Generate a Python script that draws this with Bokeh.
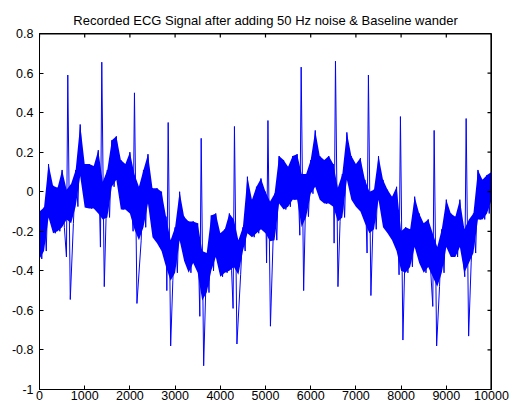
from bokeh.plotting import figure
from bokeh.models import Range1d, FixedTicker
from bokeh.embed import file_html
from bokeh.resources import INLINE

title_text = "Recorded ECG Signal after adding 50 Hz noise & Baseline wander"

# envelope of the noisy band (sample positions every 100 samples)
env_t = list(range(0, 10001, 100))
upper = [-0.10, -0.08, 0.14, 0.03, 0.02, 0.11, 0.01, 0.04, 0.11, 0.34,
         0.14, 0.14, 0.13, 0.21, 0.05, 0.11, 0.26, 0.28, 0.16, 0.14,
         0.20, 0.09, 0.025, 0.11, 0.19, 0.017, 0.017, 0.00, -0.126, -0.245,
         -0.18, 0.00, -0.126, -0.15, -0.15, -0.16, -0.30, -0.31, -0.12, -0.11,
         -0.21, -0.19, -0.11, -0.14, -0.245, -0.18, 0.076, -0.04, 0.025, 0.067,
         0.00, -0.05, -0.01, 0.18, 0.16, 0.126, 0.18, 0.19, 0.09, 0.09,
         0.16, 0.31, 0.18, 0.16, 0.18, 0.14, 0.02, 0.09, 0.30, 0.18,
         0.14, 0.17, 0.06, 0.00, 0.01, 0.18, 0.06, 0.01, -0.025, 0.025,
         -0.20, -0.18, -0.19, -0.025, -0.11, -0.16, -0.14, -0.21, -0.28, -0.19,
         -0.04, -0.11, -0.126, -0.04, -0.19, -0.14, -0.11, 0.11, 0.06, 0.084,
         0.10]
lower = [-0.34, -0.30, -0.13, -0.21, -0.20, -0.18, -0.14, -0.16, -0.075, 0.08,
         -0.08, -0.085, -0.085, -0.11, -0.14, -0.13, 0.025, 0.06, -0.09, -0.09,
         -0.11, -0.19, -0.245, -0.18, -0.06, -0.23, -0.26, -0.30, -0.38, -0.45,
         -0.41, -0.245, -0.35, -0.41, -0.36, -0.41, -0.55, -0.51, -0.40, -0.33,
         -0.43, -0.41, -0.40, -0.38, -0.42, -0.30, -0.21, -0.23, -0.21, -0.19,
         -0.21, -0.25, -0.245, -0.06, -0.09, -0.076, -0.04, -0.04, -0.18, -0.126,
         -0.01, 0.025, -0.04, -0.06, -0.06, -0.076, -0.15, -0.13, 0.06, -0.04,
         -0.076, -0.10, -0.16, -0.21, -0.19, -0.04, -0.18, -0.21, -0.245, -0.30,
         -0.40, -0.41, -0.38, -0.28, -0.36, -0.41, -0.38, -0.43, -0.48, -0.41,
         -0.28, -0.33, -0.33, -0.28, -0.41, -0.36, -0.31, -0.14, -0.14, -0.11,
         -0.04]

# QRS complexes: R-peak sample, Q dip, R peak, S trough
beat_t = [626, 1378, 2101, 2847, 3577, 4313, 5054, 5789, 6548, 7277, 7985, 8731, 9439]
q_val = [-0.33, -0.28, -0.20, -0.50, -0.63, -0.59, -0.36, -0.22, -0.26, -0.31, -0.42, -0.58, -0.43]
r_val = [0.59, 0.655, 0.50, 0.35, 0.27, 0.33, 0.36, 0.63, 0.66, 0.59, 0.38, 0.31, 0.37]
s_val = [-0.545, -0.48, -0.565, -0.78, -0.88, -0.77, -0.68, -0.50, -0.48, -0.525, -0.75, -0.78, -0.73]

x_ticks = [0, 1000, 2000, 3000, 4000, 5000, 6000, 7000, 8000, 9000, 10000]
y_ticks = [-1, -0.8, -0.6, -0.4, -0.2, 0, 0.2, 0.4, 0.6, 0.8]
y_tick_labels = ["-1", "-0.8", "-0.6", "-0.4", "-0.2", "0", "0.2", "0.4", "0.6", "0.8"]

X0, X1 = 0, 10000
Y0, Y1 = -1, 0.8

# build the signal trace: zig-zag across the band, with the QRS complexes inserted
pts = []
for i, t in enumerate(env_t):
    pts.append((t, upper[i]))
    if t + 50 <= X1:
        pts.append((t + 50, lower[i]))
for b, q, r, s in zip(beat_t, q_val, r_val, s_val):
    pts = [pt for pt in pts if not (b - 45 < pt[0] < b + 100)]
    pts += [(b - 30, q), (b, r), (b + 55, s)]
pts.sort(key=lambda a: a[0])
sig_x = [a[0] for a in pts]
sig_y = [a[1] for a in pts]

BLUE = "#0000ff"
FONT = "Liberation Sans"

W, H = 513, 410
BL, BR, BT, BB = 39, 22, 33, 21
FW, FH = W - BL - BR, H - BT - BB
TICK = 4

p = figure(width=W, height=H, x_range=Range1d(X0, X1), y_range=Range1d(Y0, Y1),
           output_backend="svg", toolbar_location=None,
           min_border_left=BL, min_border_right=BR, min_border_top=BT, min_border_bottom=BB)
p.title.text = title_text
p.title.align = "center"
p.title.text_font = FONT
p.title.text_font_size = "13px"
p.title.text_font_style = "normal"
p.title.text_color = "black"
p.title.standoff = 12
p.xgrid.visible = False
p.ygrid.visible = False
p.outline_line_color = "black"
p.background_fill_color = "white"
p.border_fill_color = "white"

p.varea(x=env_t, y1=lower, y2=upper, fill_color=BLUE, fill_alpha=1.0)
p.line(sig_x, sig_y, line_color=BLUE, line_width=1)

# box edges (top, right) drawn half a pixel inside the frame so they stay crisp
px_y = (Y1 - Y0) / FH
px_x = (X1 - X0) / FW
p.line([X0, X1], [Y1 - 0.5 * px_y, Y1 - 0.5 * px_y], line_color="black", line_width=1.2)
p.line([X1 - 0.5 * px_x, X1 - 0.5 * px_x], [Y0, Y1], line_color="black", line_width=1.2)

# mirrored inward ticks on top and right edges (MATLAB "box on")
p.segment(x0=x_ticks, y0=[Y1] * len(x_ticks), x1=x_ticks, y1=[Y1 - TICK * px_y] * len(x_ticks),
          line_color="black", line_width=1.2)
p.segment(x0=[X1] * len(y_ticks), y0=y_ticks, x1=[X1 - TICK * px_x] * len(y_ticks), y1=y_ticks,
          line_color="black", line_width=1.2)

for ax, ticks in ((p.xaxis[0], x_ticks), (p.yaxis[0], y_ticks)):
    ax.ticker = FixedTicker(ticks=ticks)
    ax.axis_line_color = "black"
    ax.axis_line_width = 1
    ax.major_tick_in = TICK
    ax.major_tick_out = 0
    ax.major_tick_line_color = "black"
    ax.minor_tick_line_color = None
    ax.major_label_text_font = FONT
    ax.major_label_text_font_size = "12.5px"
    ax.major_label_text_color = "black"

p.xaxis[0].major_label_standoff = 1
p.yaxis[0].major_label_standoff = 6
p.yaxis[0].major_label_overrides = {t: l for t, l in zip(y_ticks, y_tick_labels)}

open("out.html", "w").write(file_html(p, INLINE))
